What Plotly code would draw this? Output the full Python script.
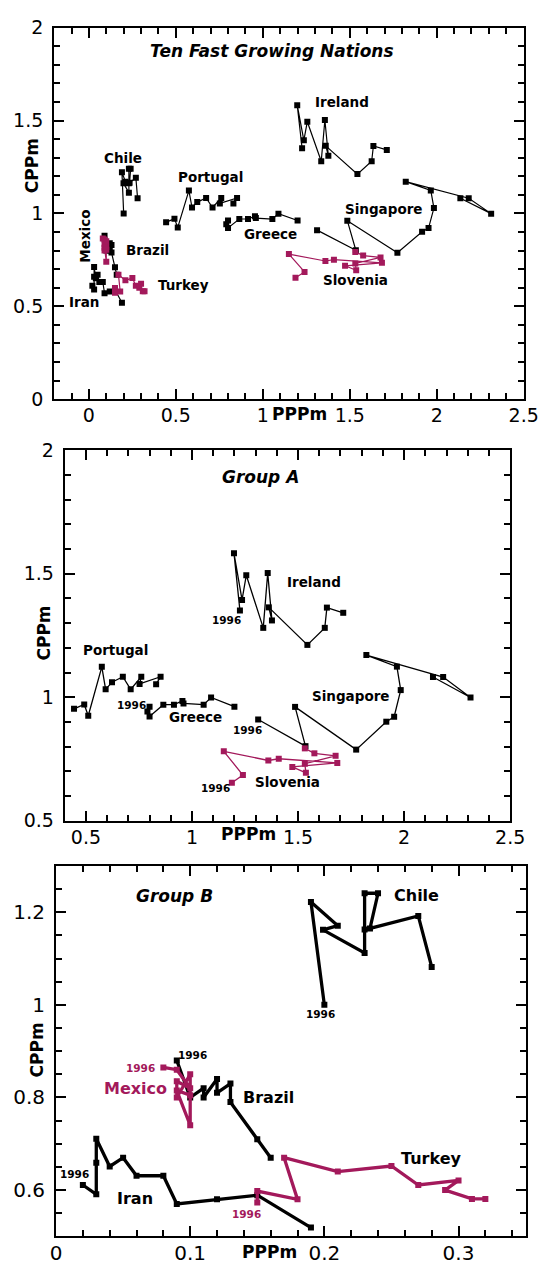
import plotly.graph_objects as go

BLACK = "#000000"
MAGENTA = "#A3195B"
FONT = "DejaVu Sans, Liberation Sans, Arial, sans-serif"

# ---------------- data (PPPm = x, CPPm = y), first point = 1996 ----------------
portugal_x = [0.444, 0.492, 0.511, 0.575, 0.593, 0.623, 0.674, 0.711, 0.761, 0.753, 0.852, 0.831]
portugal_y = [0.953, 0.971, 0.925, 1.123, 1.032, 1.061, 1.083, 1.032, 1.083, 1.054, 1.083, 1.053]

greece_x = [0.800, 0.790, 0.800, 0.865, 0.915, 0.955, 0.960, 1.055, 1.090, 1.200]
greece_y = [0.962, 0.942, 0.922, 0.970, 0.970, 0.985, 0.975, 0.970, 0.999, 0.962]

ireland_x = [1.226, 1.198, 1.236, 1.256, 1.336, 1.357, 1.377, 1.362, 1.544, 1.626, 1.636, 1.713]
ireland_y = [1.351, 1.583, 1.394, 1.494, 1.281, 1.503, 1.311, 1.364, 1.212, 1.281, 1.363, 1.342]

singapore_x = [1.312, 1.535, 1.486, 1.774, 1.916, 1.953, 1.984, 1.966, 1.822, 2.184, 2.313, 2.136]
singapore_y = [0.910, 0.802, 0.961, 0.788, 0.901, 0.921, 1.029, 1.124, 1.171, 1.082, 0.999, 1.082]

slovenia_x = [1.188, 1.240, 1.150, 1.360, 1.409, 1.685, 1.473, 1.537, 1.532, 1.677, 1.577, 1.532]
slovenia_y = [0.654, 0.685, 0.781, 0.744, 0.751, 0.734, 0.718, 0.694, 0.731, 0.763, 0.773, 0.793]

chile_x = [0.200, 0.190, 0.210, 0.199, 0.230, 0.230, 0.230, 0.240, 0.234, 0.270, 0.280]
chile_y = [1.000, 1.222, 1.171, 1.162, 1.112, 1.163, 1.241, 1.241, 1.165, 1.192, 1.082]

brazil_x = [0.090, 0.100, 0.110, 0.110, 0.120, 0.120, 0.130, 0.130, 0.150, 0.160]
brazil_y = [0.880, 0.800, 0.820, 0.800, 0.840, 0.810, 0.830, 0.790, 0.710, 0.670]

mexico_x = [0.080, 0.090, 0.100, 0.090, 0.090, 0.100, 0.100, 0.090, 0.100]
mexico_y = [0.865, 0.860, 0.820, 0.835, 0.800, 0.850, 0.740, 0.815, 0.805]

iran_x = [0.020, 0.030, 0.030, 0.030, 0.040, 0.050, 0.060, 0.080, 0.090, 0.120, 0.150, 0.190]
iran_y = [0.611, 0.591, 0.659, 0.711, 0.651, 0.670, 0.631, 0.631, 0.570, 0.580, 0.589, 0.519]

turkey_x = [0.150, 0.150, 0.180, 0.170, 0.210, 0.250, 0.270, 0.300, 0.290, 0.310, 0.320]
turkey_y = [0.573, 0.598, 0.580, 0.670, 0.640, 0.652, 0.611, 0.621, 0.600, 0.581, 0.581]

group_a = [("Portugal", portugal_x, portugal_y, BLACK),
           ("Greece", greece_x, greece_y, BLACK),
           ("Ireland", ireland_x, ireland_y, BLACK),
           ("Singapore", singapore_x, singapore_y, BLACK),
           ("Slovenia", slovenia_x, slovenia_y, MAGENTA)]
group_b = [("Chile", chile_x, chile_y, BLACK),
           ("Brazil", brazil_x, brazil_y, BLACK),
           ("Iran", iran_x, iran_y, BLACK),
           ("Mexico", mexico_x, mexico_y, MAGENTA),
           ("Turkey", turkey_x, turkey_y, MAGENTA)]

W, H = 556, 1271


def px_dom(a, b):
    return [a / W, b / W]


def py_dom(top, bottom):
    return [1 - bottom / H, 1 - top / H]


fig = go.Figure()

# panel 1: all ten
for name, xs, ys, col in group_a + group_b:
    fig.add_trace(go.Scatter(x=xs, y=ys, mode="lines+markers", name=name,
                             line=dict(color=col, width=1.2),
                             marker=dict(symbol="square", size=6, color=col),
                             xaxis="x", yaxis="y", showlegend=False))
# panel 2: group A
for name, xs, ys, col in group_a:
    fig.add_trace(go.Scatter(x=xs, y=ys, mode="lines+markers", name=name,
                             line=dict(color=col, width=1.3),
                             marker=dict(symbol="square", size=6, color=col),
                             xaxis="x2", yaxis="y2", showlegend=False))
# panel 3: group B
for name, xs, ys, col in group_b:
    fig.add_trace(go.Scatter(x=xs, y=ys, mode="lines+markers", name=name,
                             line=dict(color=col, width=3.3),
                             marker=dict(symbol="square", size=6, color=col),
                             xaxis="x3", yaxis="y3", showlegend=False))


def axis(domain, rng, dtick, minor_dtick, anchor, standoff, size=19):
    return dict(domain=domain, range=rng, dtick=dtick, tick0=0, anchor=anchor,
                ticks="inside", ticklen=10, tickwidth=2, tickcolor=BLACK,
                showline=True, linewidth=2, linecolor=BLACK, mirror="allticks",
                showgrid=False, zeroline=False, ticklabelstandoff=standoff,
                minor=dict(dtick=minor_dtick, tick0=0, ticks="inside", ticklen=6,
                           tickwidth=1.5, tickcolor=BLACK, showgrid=False),
                tickfont=dict(family=FONT, size=size, color=BLACK))


fig.update_layout(
    width=W, height=H, margin=dict(l=0, r=0, t=0, b=0),
    paper_bgcolor="white", plot_bgcolor="white", showlegend=False,
    xaxis=axis(px_dom(50, 538), [-0.2, 2.5001], 0.5, 0.1, "y", -2),
    yaxis=axis(py_dom(17, 395), [0, 2.0001], 0.5, 0.1, "x", 5),
    xaxis2=axis(px_dom(61, 524), [0.4, 2.5001], 0.5, 0.1, "y2", -2),
    yaxis2=axis(py_dom(447, 824), [0.5, 2.0001], 0.5, 0.1, "x2", 5),
    xaxis3=axis(px_dom(52, 540), [0, 0.35], 0.1, 0.02, "y3", -2, 20),
    yaxis3=axis(py_dom(870, 1247), [0.5, 1.3], 0.2, 0.05, "x3", 5, 20),
)

ann = []


def label(text, x, y, ref, size, color=BLACK, italic=False, angle=0):
    t = "<b>" + (f"<i>{text}</i>" if italic else text) + "</b>"
    ann.append(dict(text=t, x=x, y=y, xref="x" + ref, yref="y" + ref,
                    xanchor="center", yanchor="middle",
                    showarrow=False, textangle=angle,
                    font=dict(family=FONT, size=size, color=color)))


def plabel(text, px, py, size, angle=0):
    ann.append(dict(text=f"<b>{text}</b>", x=px / W, y=1 - py / H, xref="paper",
                    yref="paper", xanchor="center", yanchor="middle",
                    showarrow=False, textangle=angle,
                    font=dict(family=FONT, size=size, color=BLACK)))


# panel 1 labels
label("Ten Fast Growing Nations", 1.054, 1.877, "", 17, italic=True)
for t, x, y in [("Ireland", 1.456, 1.601), ("Chile", 0.196, 1.297),
                ("Portugal", 0.697, 1.194), ("Singapore", 1.698, 1.026),
                ("Greece", 1.044, 0.890), ("Brazil", 0.338, 0.801),
                ("Slovenia", 1.535, 0.642), ("Turkey", 0.544, 0.616),
                ("Iran", -0.029, 0.522)]:
    label(t, x, y, "", 13.5)
label("Mexico", -0.019, 0.878, "", 13.5, angle=-90)

# panel 2 labels
label("Group A", 1.324, 1.892, "2", 17, italic=True)
for t, x, y in [("Ireland", 1.573, 1.466), ("Portugal", 0.638, 1.193),
                ("Singapore", 1.749, 1.004), ("Greece", 1.015, 0.920),
                ("Slovenia", 1.449, 0.658)]:
    label(t, x, y, "2", 13.5)
for x, y in [(0.396, 0.909), (0.716, 0.968), (1.164, 1.311), (1.262, 0.869),
             (1.111, 0.632)]:
    label("1996", x, y, "2", 10.5)

# panel 3 labels
label("Group B", 0.0883, 1.2345, "3", 17, italic=True)
for t, x, y in [("Chile", 0.269, 1.237), ("Brazil", 0.1585, 0.800),
                ("Turkey", 0.2797, 0.669), ("Iran", 0.0586, 0.582)]:
    label(t, x, y, "3", 16)
label("Mexico", 0.0591, 0.819, "3", 16, color=MAGENTA)
for x, y in [(0.1973, 0.9793), (0.1017, 0.891), (0.0134, 0.634)]:
    label("1996", x, y, "3", 10.5)
label("1996", 0.0629, 0.863, "3", 10.5, color=MAGENTA)
label("1996", 0.1423, 0.549, "3", 10.5, color=MAGENTA)

# axis titles
plabel("CPPm", 27, 157, 17, angle=-90)
plabel("PPPm", 305, 410, 17)
plabel("CPPm", 40, 633, 17, angle=-90)
plabel("PPPm", 252, 837, 17)
plabel("CPPm", 32, 1057, 17, angle=-90)
plabel("PPPm", 274, 1263, 17)

fig.update_layout(annotations=ann)

fig.write_html("out.html", config={"displayModeBar": False},
               post_script="document.body.style.margin='0';document.body.style.overflow='hidden';")
